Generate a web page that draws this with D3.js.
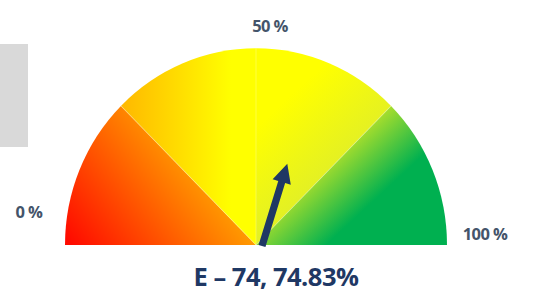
<!DOCTYPE html>
<html>
<head>
<meta charset="utf-8">
<script src="https://cdn.jsdelivr.net/npm/d3@7"></script>
<style>
  body { margin: 0; background: #fff; }
  svg { display: block; }
</style>
</head>
<body>
<script>
// gauge bands (percent)
const bandStarts = [0, 25, 50, 75];
const bandEnds = [25, 50, 75, 100];
const bandColors = [
    ["#ff0a00", "#ffaa00"],
    ["#ffb800", "#ffff00"],
    ["#ffff00", "#d4e838"],
    ["#c4e626", "#00b050"]
];
const tickValues = [0, 50, 100];
const tickLabels = ["0 %", "50 %", "100 %"];
const needleValue = 59.5;
const title = "E \u2013 74, 74.83%";

const width = 537;
const height = 295;
const cx = 256, cy = 245;
const radius = 191;

const svg = d3.select("body")
    .append("svg")
    .attr("width", width)
    .attr("height", height);

// grey box on the left
svg.append("rect")
    .attr("x", 0).attr("y", 44)
    .attr("width", 28).attr("height", 103)
    .attr("fill", "#d9d9d9");

const angle = d3.scaleLinear()
    .domain([0, 100])
    .range([-Math.PI / 2, Math.PI / 2]);

const g = svg.append("g")
    .attr("transform", `translate(${cx},${cy}) scale(1,1.03)`);

// gradients, in the gauge's local coords
const defs = svg.append("defs");
const gradPos = [
    [-185, 0, -60, -100],
    [-135, -60, -25, -60],
    [40, -150, 125, -55],
    [75, -95, 120, -45]
];
bandColors.forEach((c, i) => {
    const lg = defs.append("linearGradient")
        .attr("id", "band" + i)
        .attr("gradientUnits", "userSpaceOnUse")
        .attr("x1", gradPos[i][0]).attr("y1", gradPos[i][1])
        .attr("x2", gradPos[i][2]).attr("y2", gradPos[i][3]);
    lg.append("stop").attr("offset", 0).attr("stop-color", c[0]);
    lg.append("stop").attr("offset", 1).attr("stop-color", c[1]);
});

const arc = d3.arc()
    .innerRadius(0)
    .outerRadius(radius);

g.selectAll("path.band")
    .data(bandStarts.map((s, i) => ({ s, e: bandEnds[i], i })))
    .enter()
    .append("path")
    .attr("class", "band")
    .attr("d", d => arc({ startAngle: angle(d.s), endAngle: angle(d.e) }))
    .attr("fill", d => `url(#band${d.i})`);

// thin separators between bands
g.selectAll("line.sep")
    .data(bandStarts.slice(1))
    .enter()
    .append("line")
    .attr("x1", 0).attr("y1", 0)
    .attr("x2", d => radius * Math.sin(angle(d)))
    .attr("y2", d => -radius * Math.cos(angle(d)))
    .attr("stroke", "#ffffff")
    .attr("stroke-opacity", 0.25)
    .attr("stroke-width", 1);

// needle arrow
const a = angle(needleValue);
const ux = Math.sin(a), uy = -Math.cos(a);
const px = -uy, py = ux;
const bx = 6, by = 1;
const len = 86, headLen = 19, shaft = 3.6, head = 9.5;
const hx = bx + ux * (len - headLen), hy = by + uy * (len - headLen);
const tx = bx + ux * len, ty = by + uy * len;
const pts = [
    [bx + px * shaft, by + py * shaft],
    [hx + px * shaft, hy + py * shaft],
    [hx + px * head, hy + py * head],
    [tx, ty],
    [hx - px * head, hy - py * head],
    [hx - px * shaft, hy - py * shaft],
    [bx - px * shaft, by - py * shaft]
];
svg.append("path")
    .attr("transform", `translate(${cx},${cy})`)
    .attr("d", d3.line()(pts) + "Z")
    .attr("fill", "#1f3864");

// percent labels
const labelPos = [[29, 218], [270, 32], [485, 240]];
svg.selectAll("text.tick")
    .data(tickValues)
    .enter()
    .append("text")
    .attr("class", "tick")
    .attr("x", (d, i) => labelPos[i][0])
    .attr("y", (d, i) => labelPos[i][1])
    .attr("text-anchor", "middle")
    .attr("font-family", "'Open Sans', sans-serif")
    .attr("font-weight", "bold")
    .attr("font-size", 16.5)
    .attr("letter-spacing", -0.6)
    .attr("fill", "#44546a")
    .text((d, i) => tickLabels[i]);

svg.append("text")
    .attr("x", 276)
    .attr("y", 286)
    .attr("text-anchor", "middle")
    .attr("font-family", "'Open Sans', sans-serif")
    .attr("font-weight", "bold")
    .attr("font-size", 25.5)
    .attr("letter-spacing", -0.5)
    .attr("fill", "#1f3864")
    .text(title);
</script>
</body>
</html>
